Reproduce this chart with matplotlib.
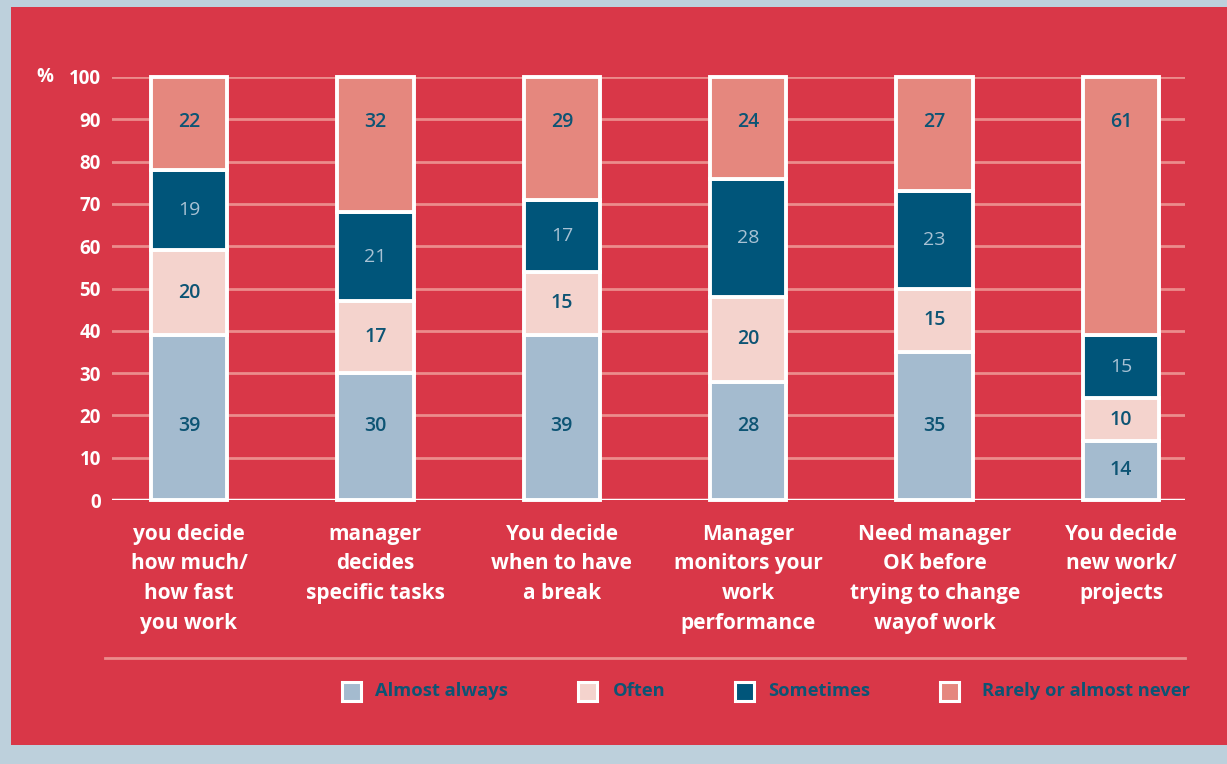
import matplotlib
matplotlib.use('Agg')
import matplotlib.pyplot as plt
from matplotlib.patches import Rectangle
from matplotlib.lines import Line2D
import numpy as np

plt.rcParams['font.family'] = ['Open Sans', 'DejaVu Sans']

categories = ['you decide\nhow much/\nhow fast\nyou work',
              'manager\ndecides\nspecific tasks',
              'You decide\nwhen to have\na break',
              'Manager\nmonitors your\nwork\nperformance',
              'Need manager\nOK before\ntrying to change\nwayof work',
              'You decide\nnew work/\nprojects']
series = ['Almost always', 'Often', 'Sometimes', 'Rarely or almost never']
almost_always = [39, 30, 39, 28, 35, 14]
often = [20, 17, 15, 20, 15, 10]
sometimes = [19, 21, 17, 28, 23, 15]
rarely = [22, 32, 29, 24, 27, 61]
yticks = [0, 10, 20, 30, 40, 50, 60, 70, 80, 90, 100]

colors = ['#A4BBCF', '#F4D3CD', '#00557A', '#E5877E']
label_colors = ['#0D5474', '#0D5474', '#A9C2D4', '#0D5474']
red = '#D93748'
navy = '#0D5474'
grid_c = '#EB8C8C'

fig = plt.figure(figsize=(12.27, 7.64), dpi=100)
fig.patch.set_facecolor('#BDD0DC')
fig.add_artist(Rectangle((11 / 1227, 19 / 764), 1, 738 / 764,
                         transform=fig.transFigure, facecolor=red,
                         edgecolor='none', zorder=0))

ax = fig.add_axes([112 / 1227, 264 / 764, 1073 / 1227, 423 / 764])
ax.set_facecolor('none')
for s in ax.spines.values():
    s.set_visible(False)

x = np.arange(len(categories))
stack = [almost_always, often, sometimes, rarely]
bottom = np.zeros(len(categories))
for k, (vals, col, tc) in enumerate(zip(stack, colors, label_colors)):
    vals = np.array(vals)
    ax.bar(x, vals, bottom=bottom, width=0.41, color=col, edgecolor='white',
           linewidth=2.8, zorder=3, clip_on=False)
    for xi, b, v in zip(x, bottom, vals):
        # value labels: top row sits near the top of the bar,
        # tall bottom segments keep their label low
        if k == len(stack) - 1:
            ylab = b + v - 10.6
        elif k == 0 and v >= 20:
            ylab = 17.5
        else:
            ylab = b + v / 2
        ax.text(xi, ylab, str(v), ha='center', va='center', fontsize=14,
                fontweight='normal' if k == 2 else 'semibold', color=tc,
                zorder=4)
    bottom += vals

ax.set_xlim(-0.413, 5.343)
ax.set_ylim(0, 100)
ax.set_yticks(yticks)
ax.set_yticklabels([str(t) for t in yticks], fontsize=13.5, fontweight='bold',
                   color='white')
for t in yticks[1:]:
    ax.axhline(t, color=grid_c, linewidth=2, zorder=1)
ax.axhline(0, color='white', linewidth=2.5, zorder=2)
ax.tick_params(axis='y', length=0, pad=8)
ax.set_xticks(x)
ax.set_xticklabels(categories, fontsize=15, fontweight='bold', color='white',
                   linespacing=1.55)
ax.tick_params(axis='x', length=0, pad=17)

fig.text(45 / 1227, 1 - 77 / 764, '%', fontsize=13.5, fontweight='bold',
         color='white', ha='center', va='center')

fig.add_artist(Line2D([105 / 1227, 1185 / 1227], [1 - 658 / 764, 1 - 658 / 764],
                      transform=fig.transFigure, color=grid_c, linewidth=2))

# legend row
leg_y = 1 - 691 / 764
box_x = [342, 578, 735, 940]
text_x = [375, 613, 768, 982]
for bx, tx, col, name in zip(box_x, text_x, colors, series):
    fig.add_artist(Rectangle((bx / 1227, leg_y - 9.5 / 764), 19 / 1227, 19 / 764,
                             transform=fig.transFigure, facecolor=col,
                             edgecolor='white', linewidth=2.2))
    fig.text(tx / 1227, leg_y, name, fontsize=13.2, fontweight='bold',
             color=navy, ha='left', va='center')

fig.savefig('out.png', dpi=100, facecolor=fig.get_facecolor())
